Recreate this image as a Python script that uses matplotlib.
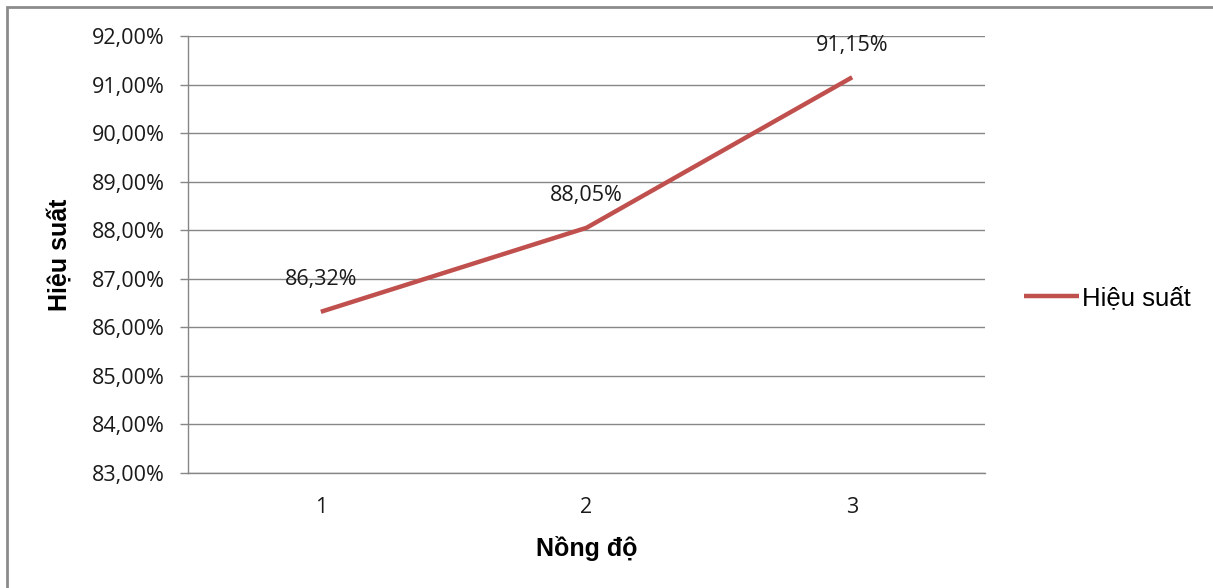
import matplotlib.pyplot as plt
from matplotlib.ticker import FuncFormatter
from matplotlib.patches import Rectangle

# Hiệu suất theo nồng độ
nong_do = [1, 2, 3]
hieu_suat = [86.32, 88.05, 91.15]
nhan = ["86,32%", "88,05%", "91,15%"]

mau_duong = "#C0504D"
mau_luoi = "#868686"
mau_chu = "#1a1a1a"
font_so = "Open Sans"

fig = plt.figure(figsize=(12.13, 5.88), dpi=100)
ax = fig.add_axes([188 / 1213, 1 - 473 / 588, 797 / 1213, 437 / 588])

ax.plot(nong_do, hieu_suat, color=mau_duong, lw=3.2, label="Hiệu suất",
        solid_capstyle="butt")

for x, y, t in zip(nong_do, hieu_suat, nhan):
    ax.annotate(t, (x, y), xytext=(0, 23), textcoords="offset points",
                ha="center", va="center", fontsize=15.5, family=font_so,
                color=mau_chu)

ax.set_xlim(0.5, 3.5)
ax.set_ylim(83, 92)
ax.set_yticks(range(83, 93))
ax.yaxis.set_major_formatter(FuncFormatter(lambda v, p: f"{v:.2f}%".replace(".", ",")))
ax.set_xticks(nong_do)
ax.set_xticklabels([str(n) for n in nong_do])

ax.grid(axis="y", color=mau_luoi, lw=1)
ax.set_axisbelow(True)
for s in ["top", "right"]:
    ax.spines[s].set_visible(False)
for s in ["left", "bottom"]:
    ax.spines[s].set_color(mau_luoi)
    ax.spines[s].set_linewidth(1)

ax.tick_params(axis="y", length=6, color=mau_luoi, width=1, pad=11,
               labelsize=15.5, labelcolor=mau_chu)
ax.tick_params(axis="x", length=0, pad=17, labelsize=15.5, labelcolor=mau_chu)
for lb in ax.get_xticklabels() + ax.get_yticklabels():
    lb.set_family(font_so)

ax.set_xlabel("Nồng độ", fontsize=18, fontweight="bold",
              family="Liberation Sans", labelpad=13)
ax.set_ylabel("Hiệu suất", fontsize=18, fontweight="bold",
              family="Liberation Sans", labelpad=14)

leg = ax.legend(loc="center left", bbox_to_anchor=(1.02, 0.4), frameon=False,
                handlelength=2.15, handletextpad=0.1, borderpad=0.4,
                prop={"family": "Liberation Sans", "size": 18.5})

# khung ngoài của biểu đồ
fig.patches.append(Rectangle((7 / 1213, -0.01), 1.0, 1 - 7 / 588 + 0.01,
                             transform=fig.transFigure, fill=False,
                             edgecolor="#8c8c8c", lw=2))

fig.savefig("out.png", dpi=100)
